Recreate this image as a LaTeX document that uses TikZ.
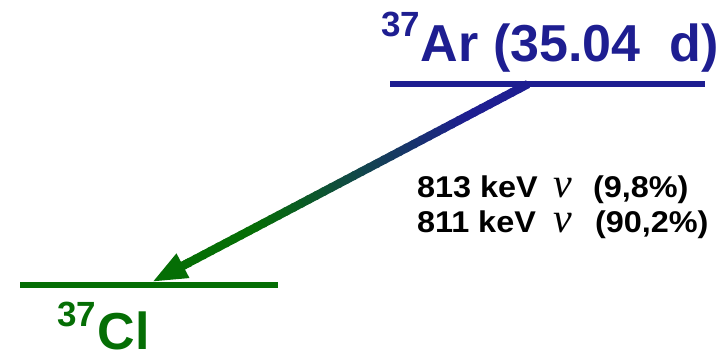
\documentclass[tikz,border=0pt]{standalone}
\usepackage{fontspec}
\usepackage{graphicx}
\setmainfont{Liberation Sans}
\newfontfamily\nufont{Liberation Serif}
\newfontfamily\labfont[FakeStretch=1.08]{Liberation Sans}
\usetikzlibrary{arrows.meta,calc}
\definecolor{arblue}{RGB}{30,30,145}
\definecolor{clgreen}{RGB}{5,110,5}
\newcommand\isosup[2]{\raisebox{#2}{\fontsize{35}{35}\selectfont\bfseries #1}}
\tikzset{
  level/.style={line width=5.5pt},
  txt/.style={inner sep=0pt, outer sep=0pt},
  labtext/.style={txt, font=\labfont\bfseries\fontsize{30}{35}\selectfont},
  nutext/.style={txt, font=\nufont\itshape\fontsize{42}{42}\selectfont, text height=20pt, text depth=1pt},
}
\begin{document}
\begin{tikzpicture}[x=1pt,y=-1pt]
\useasboundingbox (0,0) rectangle (728,353);
% transition arrow with gradient (drawn first, under the levels)
\coordinate (s) at (528,84);
\coordinate (e) at (152,282);
\foreach \i in {0,...,45}{
  \pgfmathsetmacro\fa{\i/50}
  \pgfmathsetmacro\fb{(\i+1.3)/50}
  \pgfmathsetmacro\p{max(0,min(100,(\i/50-0.15)/0.57*100))}
  \draw[line width=8.5pt, color=clgreen!\p!arblue] ($(s)!\fa!(e)$) -- ($(s)!\fb!(e)$);
}
\draw[line width=8.5pt, clgreen, -{Triangle[length=35pt,width=25pt]}] ($(s)!0.9!(e)$) -- (e);
% levels
\coordinate (t1) at (390,84);
\coordinate (t2) at (705,84);
\coordinate (b1) at (20,285);
\coordinate (b2) at (278,285);
\draw[level, arblue] (t1) -- (t2);
\draw[level, clgreen] (b1) -- (b2);
% level labels
\node[txt, text=arblue, anchor=base west] (ar) at (381,62)
  {\isosup{37}{25pt}\hspace{1pt}{\fontsize{52}{52}\selectfont\bfseries Ar (35.04\ \ d)}};
\node[txt, text=clgreen, anchor=base west] (cl) at (57,349)
  {\isosup{37}{23pt}\hspace{2pt}{\fontsize{52}{52}\selectfont\bfseries Cl}};
% transition labels
\node[labtext, anchor=base west] (l1a) at (417,197) {813 keV};
\node[nutext, anchor=base west] (nu1) at (553,197) {ν};
\node[labtext, anchor=base west] (l1b) at (593,197) {(9,8\%)};
\node[labtext, anchor=base west] (l2a) at (417,232) {811 keV};
\node[nutext, anchor=base west] (nu2) at (553,232) {ν};
\node[labtext, anchor=base west] (l2b) at (595,232) {(90,2\%)};
\end{tikzpicture}
\end{document}
